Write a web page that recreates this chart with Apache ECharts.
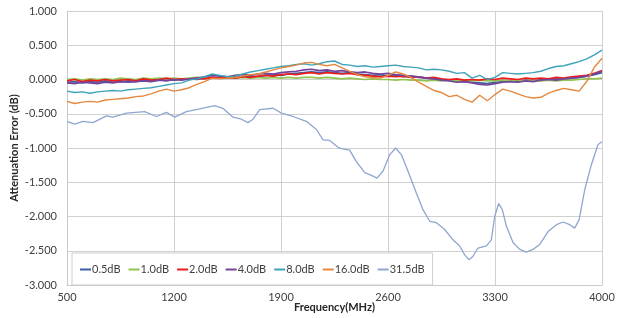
<!DOCTYPE html>
<html>
<head>
<meta charset="utf-8" />
<title>Attenuation Error</title>
<script src="https://cdn.jsdelivr.net/npm/echarts@6/dist/echarts.min.js"></script>
<style>
  html, body { margin: 0; padding: 0; background: #fff; }
  #chart { width: 620px; height: 318px; }
</style>
</head>
<body>
<div id="chart"></div>
<script>
// 频率轴 (MHz), 每 50MHz 取一个点
var freq = [];
for (var f = 500; f <= 4000; f += 50) freq.push(f);

var att05 = [-0.04,-0.03,-0.05,-0.03,-0.04,-0.02,-0.04,-0.03,-0.02,-0.03,-0.01,-0.02,-0.01,0.00,-0.01,0.00,0.01,0.00,0.02,0.03,0.02,0.03,0.04,0.03,0.05,0.04,0.06,0.07,0.06,0.08,0.09,0.10,0.11,0.10,0.11,0.10,0.09,0.10,0.08,0.07,0.06,0.07,0.05,0.06,0.04,0.05,0.03,0.02,0.01,0.00,-0.01,-0.02,-0.03,-0.04,-0.05,-0.06,-0.04,-0.03,-0.02,-0.03,-0.01,-0.02,0.00,-0.01,0.01,0.00,0.02,0.03,0.05,0.07,0.10];
var att10 = [0.00,0.01,-0.01,0.01,0.00,0.01,0.00,0.02,0.01,0.00,0.02,0.01,0.02,0.01,0.02,0.01,0.02,0.03,0.02,0.03,0.02,0.03,0.02,0.03,0.02,0.03,0.02,0.03,0.02,0.03,0.02,0.03,0.03,0.02,0.03,0.02,0.01,0.02,0.01,0.00,0.01,0.00,0.00,-0.01,0.00,-0.01,-0.01,-0.02,-0.01,-0.02,-0.01,-0.02,-0.01,-0.02,-0.01,-0.02,-0.02,-0.01,-0.02,-0.01,-0.02,-0.01,-0.02,-0.01,-0.02,-0.01,-0.01,0.00,0.01,0.01,0.02];
var att20 = [-0.02,0.00,-0.03,-0.01,-0.02,0.00,-0.02,-0.01,0.00,-0.02,0.01,-0.01,0.00,0.02,0.00,0.01,0.00,0.02,0.01,0.03,0.02,0.03,0.02,0.04,0.03,0.05,0.06,0.05,0.07,0.08,0.07,0.09,0.10,0.08,0.10,0.09,0.08,0.09,0.07,0.06,0.05,0.04,0.05,0.04,0.05,0.03,0.04,0.02,0.03,0.01,0.00,0.01,-0.01,0.00,-0.01,0.01,0.00,0.02,0.01,0.00,0.02,0.01,0.02,0.01,0.03,0.02,0.04,0.05,0.06,0.09,0.13];
var att40 = [-0.05,-0.06,-0.04,-0.05,-0.06,-0.04,-0.05,-0.03,-0.04,-0.03,-0.02,-0.03,-0.01,-0.02,0.00,-0.01,0.01,0.02,0.04,0.06,0.05,0.04,0.06,0.07,0.06,0.08,0.09,0.08,0.10,0.11,0.12,0.14,0.15,0.13,0.14,0.12,0.13,0.11,0.10,0.11,0.09,0.08,0.09,0.07,0.06,0.05,0.04,0.02,0.01,-0.01,-0.02,-0.04,-0.03,-0.05,-0.07,-0.08,-0.06,-0.04,-0.03,-0.04,-0.02,-0.03,-0.01,0.00,-0.01,0.01,0.02,0.03,0.05,0.08,0.12];
var att80 = [-0.17,-0.19,-0.18,-0.20,-0.18,-0.17,-0.16,-0.17,-0.15,-0.14,-0.13,-0.12,-0.10,-0.08,-0.06,-0.05,-0.01,0.01,0.04,0.08,0.06,0.04,0.05,0.08,0.11,0.13,0.15,0.17,0.19,0.20,0.22,0.23,0.21,0.23,0.26,0.27,0.22,0.21,0.19,0.20,0.18,0.19,0.20,0.21,0.19,0.18,0.17,0.14,0.15,0.14,0.12,0.09,0.10,0.02,0.06,0.00,0.03,0.10,0.09,0.08,0.09,0.10,0.12,0.16,0.19,0.20,0.23,0.26,0.30,0.36,0.43];
var att160 = [-0.32,-0.35,-0.33,-0.32,-0.33,-0.30,-0.29,-0.28,-0.27,-0.25,-0.24,-0.21,-0.17,-0.14,-0.17,-0.15,-0.12,-0.07,-0.03,0.02,0.01,0.02,0.03,0.05,0.07,0.08,0.11,0.14,0.17,0.19,0.21,0.24,0.25,0.22,0.20,0.22,0.17,0.12,0.07,0.04,0.03,0.02,0.06,0.11,0.08,0.03,-0.04,-0.10,-0.16,-0.19,-0.25,-0.23,-0.29,-0.33,-0.23,-0.31,-0.22,-0.14,-0.17,-0.21,-0.25,-0.27,-0.26,-0.20,-0.16,-0.13,-0.15,-0.17,-0.03,0.18,0.31];

// 31.5dB 曲线较平滑, 单独取点
var freq315 = [500,550,605,670,758,801,889,1008,1085,1150,1205,1281,1368,1466,1520,1586,1641,1684,1717,1761,1848,1903,1978,2066,2132,2175,2219,2273,2295,2349,2393,2448,2491,2528,2567,2611,2650,2688,2731,2786,2829,2873,2917,2971,3025,3069,3102,3130,3156,3189,3244,3276,3298,3324,3348,3374,3418,3462,3505,3549,3592,3647,3702,3745,3789,3821,3850,3887,3931,3974,4000];
var att315 = [-0.61,-0.65,-0.61,-0.63,-0.53,-0.55,-0.49,-0.47,-0.54,-0.48,-0.55,-0.47,-0.43,-0.38,-0.42,-0.55,-0.58,-0.63,-0.58,-0.44,-0.42,-0.49,-0.54,-0.61,-0.73,-0.88,-0.89,-0.99,-1.01,-1.03,-1.20,-1.36,-1.40,-1.44,-1.34,-1.10,-1.00,-1.10,-1.34,-1.66,-1.90,-2.07,-2.09,-2.19,-2.34,-2.43,-2.56,-2.63,-2.58,-2.46,-2.43,-2.34,-2.00,-1.81,-1.90,-2.14,-2.38,-2.48,-2.52,-2.48,-2.41,-2.22,-2.12,-2.08,-2.12,-2.17,-2.05,-1.61,-1.24,-0.95,-0.91];

var seriesNames = ["0.5dB", "1.0dB", "2.0dB", "4.0dB", "8.0dB", "16.0dB", "31.5dB"];
var seriesColors = ["#3c5fa3", "#92c353", "#ee1c1c", "#74449a", "#3fa3b9", "#e5883f", "#8ea6cf"];
var yTicks = [-3, -2.5, -2, -1.5, -1, -0.5, 0, 0.5, 1];
var xTicks = [500, 1200, 1900, 2600, 3300, 4000];

var FONT = "Lato";
var X0 = xTicks[0]; // x 轴从 0 起算, 标签再加回 500

function toPairs(xs, ys) {
  return ys.map(function (v, i) { return [xs[i] - X0, v]; });
}

function makeSeries(name, color, data, width) {
  return {
    name: name,
    type: "line",
    data: data,
    symbol: "none",
    animation: false,
    lineStyle: { color: color, width: width },
    itemStyle: { color: color }
  };
}

var chart = echarts.init(document.getElementById("chart"), null, { renderer: "canvas" });

var option = {
  backgroundColor: "#fff",
  animation: false,
  grid: { left: 67, right: 18, top: 11, bottom: 33, outerBoundsMode: "none" },
  legend: {
    left: 72,
    top: 253,
    data: seriesNames,
    backgroundColor: "#fff",
    borderColor: "#cfcfcf",
    borderWidth: 1,
    padding: [11, 8, 10, 8],
    itemGap: 8,
    itemWidth: 11,
    itemHeight: 2,
    icon: "rect",
    textStyle: { fontFamily: FONT, fontSize: 11, color: "#404040", padding: [0, 0, 0, -4] },
    z: 10
  },
  xAxis: {
    type: "value",
    min: 0,
    max: xTicks[xTicks.length - 1] - X0,
    interval: 700,
    name: "Frequency(MHz)",
    nameLocation: "middle",
    nameGap: 17,
    nameMoveOverlap: false,
    nameTextStyle: { fontFamily: FONT, fontSize: 11, fontWeight: "bold", color: "#262626" },
    axisLine: { show: true, onZero: false, lineStyle: { color: "#c8c8c8" } },
    axisTick: { show: false },
    axisLabel: {
      fontFamily: FONT, fontSize: 11, color: "#404040", margin: 7,
      formatter: function (v) { return String(v + X0); }
    },
    splitLine: { show: true, lineStyle: { color: "#d0d0d0" } }
  },
  yAxis: {
    type: "value",
    min: yTicks[0],
    max: yTicks[yTicks.length - 1],
    interval: 0.5,
    name: "Attenuation Error (dB)",
    nameLocation: "middle",
    nameGap: 47,
    nameMoveOverlap: false,
    nameTextStyle: { fontFamily: FONT, fontSize: 11, fontWeight: "bold", color: "#262626" },
    axisLine: { show: true, lineStyle: { color: "#c8c8c8" } },
    axisTick: { show: false },
    axisLabel: {
      fontFamily: FONT, fontSize: 11, color: "#404040", margin: 10,
      formatter: function (v) { return v.toFixed(3); }
    },
    splitLine: { show: true, lineStyle: { color: "#d0d0d0" } }
  },
  series: [
    makeSeries(seriesNames[0], seriesColors[0], toPairs(freq, att05), 1.7),
    makeSeries(seriesNames[1], seriesColors[1], toPairs(freq, att10), 1.7),
    makeSeries(seriesNames[2], seriesColors[2], toPairs(freq, att20), 1.7),
    makeSeries(seriesNames[3], seriesColors[3], toPairs(freq, att40), 1.7),
    makeSeries(seriesNames[4], seriesColors[4], toPairs(freq, att80), 1.4),
    makeSeries(seriesNames[5], seriesColors[5], toPairs(freq, att160), 1.4),
    makeSeries(seriesNames[6], seriesColors[6], toPairs(freq315, att315), 1.3)
  ]
};

chart.setOption(option);
</script>
</body>
</html>
